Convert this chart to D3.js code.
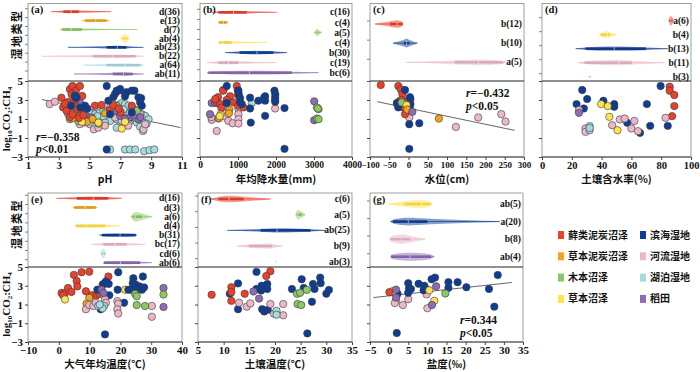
<!DOCTYPE html>
<html>
<head>
<meta charset="utf-8">
<script src="https://cdn.jsdelivr.net/npm/d3@7"></script>
<style>
  body { margin: 0; background: #fff; }
  svg text { font-family: "Liberation Serif", "Noto Sans CJK SC", serif; font-weight: bold; fill: #111; }
  .cjk { font-family: "Noto Sans CJK SC", sans-serif; }
</style>
</head>
<body>
<svg id="chart" width="700" height="372"></svg>
<script>
// --- wetland types ---
const typeKeys = ["moss", "hpeat", "wood", "herb", "coast", "river", "lake", "paddy"];
const typeNames = ["藓类泥炭沼泽", "草本泥炭沼泽", "木本沼泽", "草本沼泽", "滨海湿地", "河流湿地", "湖泊湿地", "稻田"];
const typeColors = ["#e8412c", "#f4a41c", "#8dc866", "#ffe44d", "#0d3d94", "#eab8c8", "#a6dcdd", "#8b6cb6"];

// --- (a) pH ---
const phTicks = [1, 3, 5, 7, 9, 11];
const phRowTypes = ["moss", "hpeat", "wood", "herb", "coast", "river", "lake", "paddy"];
const phRowLabels = ["d(36)", "e(13)", "d(7)", "ab(4)", "ab(23)", "b(22)", "a(64)", "ab(11)"];
// min, q1, median, q3, max, relative density peak
const phStats = [
  [2.5, 3.3, 3.8, 4.3, 6.4, 0.35], [4.5, 4.7, 5.4, 6.1, 6.3, 0.3], [3.1, 3.2, 3.8, 4.5, 8.1, 0.3],
  [7.0, 7.15, 7.3, 7.45, 7.6, 1.0], [3.6, 6.1, 6.8, 7.4, 8.5, 0.35], [1.9, 5.2, 6.5, 8.0, 8.5, 0.3],
  [4.6, 6.1, 7.3, 8.3, 8.5, 0.3], [4.0, 6.5, 7.2, 7.8, 8.5, 0.35]
];
const phPoints = [
  ["lake",5.02,1.62],["lake",5.35,1.51],["lake",5.67,1.69],["lake",5.89,1.87],["lake",6.11,1.76],["lake",6.33,2.22],
  ["lake",6.65,2.4],["lake",6.87,2.47],["lake",7.09,2.68],["lake",7.3,2.57],["lake",7.52,2.4],["lake",7.74,2.04],
  ["lake",7.96,1.97],["lake",8.17,1.69],["lake",8.39,1.51],["lake",8.61,1.33],["lake",8.83,0.98],["lake",7.41,1.16],
  ["lake",7.63,0.8],["lake",7.85,1.05],["lake",8.07,0.62],["lake",8.28,0.91],["lake",8.5,0.62],["lake",6.98,0.62],
  ["lake",7.2,0.27],["lake",6.76,0.98],["lake",6.54,1.16],["lake",6.33,0.8],["lake",5.67,1.05],["lake",5.46,0.62],
  ["lake",5.24,0.8],["lake",5.02,0.45],["lake",5.35,0.2],["lake",5.67,0.34],["lake",6.76,0.09],["lake",8.28,0.2],
  ["lake",8.46,-0.26],["lake",5.9,1.3],["lake",6.0,0.6],["lake",7.0,1.4],["lake",7.6,1.6],["lake",8.0,1.3],
  ["lake",6.4,1.9],["lake",7.2,2.0],["lake",5.5,1.3],["lake",8.7,0.5],
  ["lake",6.33,-2.21],["lake",7.3,-2.21],["lake",7.63,-2.21],["lake",7.96,-2.21],["lake",8.54,-2.39],["lake",8.89,-2.28],["lake",9.2,-2.21],
  ["river",2.41,2.57],["river",2.74,2.82],["river",4.26,0.91],["river",4.37,0.45],["river",4.7,0.62],["river",5.28,-0.09],
  ["river",5.57,0.09],["river",6.65,1.16],["river",7.09,0.8],["river",7.96,1.16],["river",8.5,-0.09],["river",8.61,0.45],
  ["river",4.0,1.3],["river",6.0,0.3],["river",7.5,0.3],["river",8.3,1.5],["river",5.0,1.0],
  ["paddy",4.37,2.75],["paddy",4.8,1.33],["paddy",5.13,1.16],["paddy",6.98,1.33],["paddy",7.63,1.16],["paddy",8.17,0.98],
  ["paddy",7.85,1.4],["paddy",4.5,2.0],["paddy",6.6,1.8],["paddy",7.3,1.0],["paddy",8.3,1.2],
  ["wood",3.61,1.51],["wood",3.72,0.98],["wood",4.26,0.8],["wood",6.76,2.4],["wood",8.07,1.87],["wood",3.9,2.1],["wood",4.4,1.5],
  ["hpeat",4.37,1.26],["hpeat",4.85,0.7],["hpeat",5.2,1.0],["hpeat",3.9,1.1],["hpeat",6.0,1.6],["hpeat",5.6,0.5],
  ["herb",7.09,-0.01],["herb",5.57,0.62],["herb",4.5,0.7],["herb",7.3,0.7],
  ["moss",3.17,3.24],["moss",3.72,4.13],["moss",3.89,4.47],["moss",4.11,3.98],["moss",4.37,4.47],["moss",4.52,3.42],
  ["moss",3.83,3.6],["moss",3.28,2.22],["moss",3.5,1.87],["moss",3.83,2.4],["moss",4.04,2.57],["moss",4.2,2.04],
  ["moss",4.48,1.97],["moss",4.7,2.22],["moss",5.35,2.4],["moss",5.78,2.47],["moss",6.33,1.97],["moss",6.54,2.47],
  ["moss",7.02,1.69],["moss",7.74,2.4],["moss",3.72,1.2],["moss",3.6,2.8],["moss",4.0,3.0],["moss",3.9,1.5],
  ["moss",4.3,1.1],["moss",3.4,2.6],["moss",4.6,1.4],["moss",6.9,2.1],
  ["coast",6.11,4.47],["coast",6.87,3.98],["coast",6.54,3.3],["coast",7.3,3.77],["coast",7.91,3.98],["coast",8.35,3.2],
  ["coast",4.11,3.2],["coast",4.04,3.46],["coast",4.15,3.28],["coast",6.22,2.93],["coast",6.65,3.64],["coast",6.76,3.99],
  ["coast",6.98,4.17],["coast",7.3,3.39],["coast",7.41,3.82],["coast",7.74,3.99],["coast",8.17,3.28],["coast",8.28,2.75],
  ["coast",8.39,2.4],["coast",4.7,2.4],["coast",4.85,2.11],["coast",6.33,1.51],["coast",7.74,1.69],["coast",6.11,-2.21],
  ["coast",3.8,2.4],["coast",4.4,2.2]
];
const phFit = [[1.9, 3.05], [10.9, 0.1]];
const phStat = ["=−0.358", "<0.01"];

// --- (b) precipitation ---
const rainTicks = [0, 1000, 2000, 3000, 4000];
const rainRowTypes = ["moss", "hpeat", "wood", "herb", "coast", "river", "paddy"];
const rainRowLabels = ["c(16)", "c(4)", "a(5)", "c(4)", "b(30)", "c(19)", "bc(6)"];
const rainStats = [
  [300, 480, 880, 1230, 2020, 0.35], [480, 500, 615, 700, 750, 0.35], [3000, 3050, 3080, 3120, 3200, 0.8],
  [480, 500, 600, 830, 1760, 0.35], [660, 1040, 1500, 1930, 2290, 0.4], [180, 480, 750, 1010, 2020, 0.4],
  [190, 220, 1300, 2420, 3120, 0.4]
];
const rainPoints = [
  ["river",308,0.91],["river",483,1.05],["river",659,1.26],["river",747,0.8],["river",861,0.55],["river",1011,2.04],
  ["river",1011,1.51],["river",1011,0.98],["river",1011,0.52],["river",440,-0.26],["river",1978,2.11],["river",300,1.2],["river",600,2.2],
  ["paddy",308,2.68],["paddy",396,2.68],["paddy",264,1.51],["paddy",3006,2.86],["paddy",3006,0.87],
  ["wood",3076,2.22],["wood",3120,2.04],["wood",3076,1.05],["wood",3120,0.98],["wood",3100,2.1],
  ["hpeat",773,1.97],["hpeat",760,1.6],["hpeat",500,1.1],
  ["herb",545,1.51],["herb",520,1.3],
  ["lake",1362,2.68],
  ["moss",615,4.06],["moss",607,3.98],["moss",475,3.3],["moss",967,4.47],["moss",994,3.98],["moss",440,2.75],
  ["moss",527,2.57],["moss",791,3.39],["moss",879,2.75],["moss",1143,2.22],["moss",1000,3.5],["moss",700,3.0],
  ["moss",400,3.1],["moss",560,2.2],["moss",1000,2.4],
  ["coast",704,4.47],["coast",1020,3.6],["coast",1055,3.2],["coast",1318,3.25],["coast",1687,3.25],["coast",1960,3.98],
  ["coast",1982,3.6],["coast",1978,3.28],["coast",1978,2.82],["coast",1011,4.0],["coast",1714,3.39],["coast",1714,2.93],
  ["coast",703,2.68],["coast",1055,2.75],["coast",1099,2.57],["coast",1538,2.93],["coast",1318,2.11],["coast",1336,0.62],
  ["coast",1714,1.33],["coast",2224,2.15],["coast",2224,-2.14],["coast",1978,3.0]
];

// --- (c) water level ---
const waterTicks = [-100, -50, 0, 50, 100, 150, 200, 250, 300];
const waterRowTypes = ["moss", "coast", "river"];
const waterRowLabels = ["b(12)", "b(10)", "a(5)"];
const waterStats = [[-87, -48, -29, -15, -14, 0.8], [-40, -12, -5, 2, 23, 0.9], [-7, 120, 182, 246, 254, 0.6]];
const waterPoints = [
  ["river",2,1.16],["river",123,0.16],["river",181,1.16],["river",241,1.51],["river",252,0.73],
  ["moss",-72,4.58],["moss",-26.5,4.47],["moss",-20,4.12],["moss",-16,3.63],["moss",-22,2.93],["moss",-9,2.75],
  ["moss",-24,2.47],["moss",-13.6,2.22],["moss",-9,1.51],["moss",-30,2.6],["moss",-5,2.9],["moss",-18,3.0],
  ["coast",-9,4.05],["coast",5,3.1],["coast",3.7,3.3],["coast",5,2.57],["coast",-26.6,2.22],["coast",2,0.45],
  ["coast",28,0.55],["coast",2,-2.14],["coast",-30,2.7],["coast",3,2.3],
  ["wood",-18,2.75],["herb",-5,2.47],["hpeat",79,1.05],["hpeat",-3,2.0],["paddy",10,1.76]
];
const waterFit = [[-81, 2.82], [276, -0.2]];
const waterStat = ["=−0.432", "<0.05"];

// --- (d) soil moisture ---
const moistTicks = [0, 20, 40, 60, 80, 100];
const moistRowTypes = ["moss", "herb", "coast", "river", "lake"];
const moistRowLabels = ["a(6)", "b(4)", "b(13)", "b(11)", "b(3)"];
const moistStats = [
  [85, 85.5, 86.5, 87.5, 88.4, 1.0], [38.6, 39.5, 43.9, 45.6, 50, 0.7], [22.6, 29.2, 48.5, 69.7, 84.4, 0.45],
  [24.3, 28.5, 51.5, 60.3, 82.2, 0.55], [31, 31.5, 32, 32.5, 33, 0.1]
];
const moistPoints = [
  ["coast",79.6,4.47],["coast",27,4.05],["coast",30.3,3.1],["coast",23.2,2.57],["coast",28.1,2.11],["coast",41.2,2.92],
  ["coast",48.5,2.57],["coast",48.5,2.29],["coast",70.4,2.57],["coast",57.2,0.6],["coast",72.6,0.28],["coast",84.4,0.28],["coast",65.8,-0.46],
  ["moss",85.7,4.4],["moss",85.7,3.98],["moss",88.8,3.52],["moss",88.8,2.36],["moss",87.3,1.3],
  ["herb",39.7,2.57],["herb",44.1,2.36],["herb",45.2,1.23],["herb",50.7,-0.18],
  ["river",24.8,1.94],["river",52.2,0.95],["river",55.5,1.05],["river",62,0.8],["river",47.1,0.35],["river",60,0.0],
  ["river",64.4,-0.28],["river",82.9,1.13],["river",29.2,0.0],["river",29.2,-0.35],
  ["paddy",24.8,1.65],
  ["lake",32,0.25],["lake",32,-0.18],["lake",32,0.05]
];

// --- (e) air temperature ---
const airTicks = [-10, 0, 10, 20, 30, 40];
const airRowTypes = ["moss", "hpeat", "wood", "herb", "coast", "river", "lake", "paddy"];
const airRowLabels = ["d(16)", "d(3)", "a(6)", "d(4)", "b(31)", "bc(17)", "cd(6)", "ab(6)"];
const airStats = [
  [-0.8, 5.8, 11.2, 16.1, 20.4, 0.4], [4.5, 5, 8.5, 12, 12.5, 0.35], [23.4, 24, 24.8, 27, 30.2, 1.0],
  [5.2, 5.5, 9, 15, 19.9, 0.4], [13.2, 14, 19.9, 25, 25.3, 0.35], [10.7, 14.5, 18.3, 22, 28, 0.4],
  [13.6, 13.8, 14.4, 15.1, 15.3, 1.0], [14.5, 14.6, 20, 26.4, 30.2, 0.35]
];
const airPoints = [
  ["moss",4.9,4.16],["moss",7.4,4.44],["moss",9.9,4.5],["moss",5.8,3.5],["moss",16.1,3.98],["moss",6,2.93],
  ["moss",0.9,2.23],["moss",2,2.23],["moss",1.4,1.99],["moss",3,2.76],["moss",4.1,2.34],["moss",8.8,2.41],
  ["moss",10.7,1.99],["moss",12.3,1.99],["moss",13.2,2.13],["moss",15.5,3.28],["moss",14.2,3.1],
  ["herb",2,1.54],["herb",21.5,2.58],["hpeat",9.9,1.71],["hpeat",9.0,1.08],
  ["coast",19.3,4.44],["coast",24.2,3.8],["coast",27.3,3.98],["coast",14.5,3.2],["coast",12.5,2.58],["coast",15.3,3.45],
  ["coast",16.4,1.99],["coast",19.1,2.58],["coast",21.2,1.19],["coast",15,-2.19],["coast",24,3.28],["coast",24.8,2.76],
  ["coast",25.3,2.58],["coast",26.2,2.93],["coast",27,2.58],["coast",27.7,2.83],["coast",23.5,2.58],["coast",22.6,2.58],
  ["coast",13.6,0.49],["coast",16.2,3.2],["coast",25,3.1],
  ["river",8.8,0.49],["river",9.9,0.94],["river",11.2,0.84],["river",14.5,2.06],["river",15,1.54],["river",15.3,1.19],
  ["river",19,1.36],["river",19.3,1.08],["river",19,0.49],["river",19.3,0.04],["river",30.2,0.84],["river",30.2,-0.31],["river",12,1.2],
  ["lake",12.8,0.84],["lake",13.9,0.77],["lake",14.7,0.84],["lake",14.2,0.6],["lake",13.3,1.0],
  ["paddy",13.9,2.58],["paddy",14.5,2.23],["paddy",34,2.76],["paddy",34,0.74],
  ["wood",24.8,2.13],["wood",25.3,1.89],["wood",25.3,0.94],["wood",28,0.84],["wood",34,2.06]
];

// --- (f) soil temperature ---
const soilTicks = [5, 10, 15, 20, 25, 30, 35];
const soilRowTypes = ["moss", "wood", "coast", "river", "lake"];
const soilRowLabels = ["c(6)", "a(5)", "ab(25)", "b(9)", "ab(3)"];
const soilStats = [
  [7.5, 9, 11, 13.9, 19.1, 0.7], [24, 24.2, 24.4, 25.2, 25.9, 1.0], [10.7, 17.2, 20.4, 26.9, 29.8, 0.45],
  [12.6, 14.9, 19.5, 19.6, 21.4, 0.55], [20, 20.05, 20.1, 20.15, 20.2, 0.2]
];
const soilPoints = [
  ["coast",16.4,4.48],["coast",12.8,3.25],["coast",11.2,2.15],["coast",16.4,2.66],["coast",17.3,2.49],["coast",17.4,3.0],
  ["coast",18.5,3.18],["coast",18.5,2.66],["coast",17.5,0.5],["coast",17.9,0.26],["coast",18.6,0.43],["coast",23.3,2.66],
  ["coast",25.2,3.69],["coast",25.6,2.77],["coast",27.4,3.18],["coast",27.7,2.66],["coast",28.8,3.87],["coast",28.9,3.28],
  ["coast",30,2.15],["coast",30.5,2.56],["coast",27.2,1.29],["coast",26.3,-2.08],["coast",12.8,0.5],
  ["moss",7.66,2.04],["moss",11.5,2.84],["moss",11.5,2.32],["moss",11.5,1.39],["moss",14.1,2.15],["moss",19.1,4.55],["moss",18.3,4.04],
  ["paddy",15.8,2.39],["paddy",16.9,1.63],
  ["wood",24.3,2.15],["wood",24.9,2.25],["wood",26.2,2.56],["wood",24.4,1.05],["wood",25.1,0.94],
  ["river",13,1.19],["river",14.5,0.77],["river",15.2,1.12],["river",19.1,1.05],["river",21.6,1.05],["river",19.8,0.02],["river",21.6,-0.15],
  ["lake",20.3,0.33],["lake",20.3,-0.09]
];

// --- (g) salinity ---
const saltTicks = [-5, 0, 5, 10, 15, 20, 25, 30, 35];
const saltRowTypes = ["herb", "coast", "river", "paddy"];
const saltRowLabels = ["ab(5)", "a(20)", "b(8)", "ab(4)"];
const saltStats = [
  [-0.2, 4, 8.5, 10.8, 11.2, 0.9], [0.4, 1, 5, 10, 28.9, 0.8], [0, 0.5, 3.3, 5.5, 9.4, 1.0], [0.4, 0.5, 5.5, 11, 11.8, 0.85]
];
const saltPoints = [
  ["river",1.8,1.39],["river",1.5,1.15],["river",3.6,0.94],["river",5,1.56],["river",9.8,2.08],["river",10,0.6],
  ["coast",28.4,4.14],["coast",12,3.87],["coast",11.1,3.69],["coast",15.5,3.38],["coast",17.9,3.38],["coast",5,3.28],
  ["coast",7.7,3.21],["coast",9.2,3.0],["coast",5.2,2.7],["coast",5.7,2.66],["coast",9,2.52],["coast",15.5,2.77],
  ["coast",20.2,2.84],["coast",26.1,2.66],["coast",5,2.25],["coast",2.2,2.15],["coast",27.5,0.77],["coast",2,-2.04],["coast",9.7,2.66],
  ["herb",0.9,2.42],["herb",10.5,2.52],["herb",11.8,1.39],
  ["moss",0.07,2.32],["wood",14.7,2.18],
  ["paddy",1.8,2.59],["paddy",12.3,2.94],["paddy",1.8,1.74],["paddy",11.2,0.94]
];
const saltFit = [[-4.1, 1.74], [32.1, 3.35]];
const saltStat = ["=0.344", "<0.05"];

const yTicks = [5, 3, 1, -1, -3];

const svg = d3.select("#chart");
const colorOf = k => typeColors[typeKeys.indexOf(k)];

function drawPanel(p) {
  const g = svg.append("g");
  const x = d3.scaleLinear().domain(p.xDomain).range([p.left, p.right]);
  const y = d3.scaleLinear().domain([-3, 5]).range([p.bottom, p.mid]);
  const row = d3.scalePoint().domain(d3.range(p.rowTypes.length)).range(p.rowRange);
  const half = d3.scaleLinear().domain([0, 1]).range([0, 5.5]);

  // frame + divider
  g.append("rect")
    .attr("x", p.left).attr("y", p.top)
    .attr("width", p.right - p.left).attr("height", p.bottom - p.top)
    .attr("fill", "none").attr("stroke", "#888").attr("stroke-width", 0.8);
  g.append("line")
    .attr("x1", p.left).attr("x2", p.right).attr("y1", p.mid).attr("y2", p.mid)
    .attr("stroke", "#222").attr("stroke-width", 1);
  g.append("line")
    .attr("x1", p.left).attr("x2", p.right).attr("y1", p.bottom).attr("y2", p.bottom)
    .attr("stroke", "#444").attr("stroke-width", 1);

  // --- violins / boxes ---
  const area = d3.area()
    .x(d => x(d[0]))
    .y0(d => d[2] - half(d[1]))
    .y1(d => d[2] + half(d[1]))
    .curve(d3.curveBasis);

  p.rowStats.forEach((s, i) => {
    const c = colorOf(p.rowTypes[i]);
    const yc = row(i);
    const prof = [[s[0], 0.08 * s[5], yc], [s[1], 0.6 * s[5], yc], [s[2], s[5], yc], [s[3], 0.6 * s[5], yc], [s[4], 0.08 * s[5], yc]];
    g.append("line")
      .attr("x1", x(s[0])).attr("x2", x(s[4])).attr("y1", yc).attr("y2", yc)
      .attr("stroke", c).attr("stroke-width", 1).attr("opacity", 0.7);
    g.append("path").attr("d", area(prof)).attr("fill", c).attr("opacity", 0.5);
    g.append("rect")
      .attr("x", x(s[1])).attr("width", Math.max(1, x(s[3]) - x(s[1])))
      .attr("y", yc - 1.3).attr("height", 2.6)
      .attr("fill", d3.color(c).darker(0.2));
    g.append("line")
      .attr("x1", x(s[2])).attr("x2", x(s[2])).attr("y1", yc - 1.5).attr("y2", yc + 1.5)
      .attr("stroke", "#fff").attr("stroke-width", 0.8).attr("opacity", 0.7);
  });

  // row labels + ticks
  g.selectAll(".rowlab").data(p.rowLabels).join("text")
    .attr("x", p.right - 2).attr("y", (d, i) => row(i))
    .attr("dy", "0.33em").attr("text-anchor", "end")
    .attr("font-size", 9.5).text(d => d);
  g.selectAll(".rowtick").data(p.rowLabels).join("line")
    .attr("x1", p.left - 3).attr("x2", p.left).attr("y1", (d, i) => row(i) - 3).attr("y2", (d, i) => row(i) - 3)
    .attr("stroke", "#666").attr("stroke-width", 0.8);

  g.append("text").attr("x", p.left + 3).attr("y", p.top + 9.5)
    .attr("font-size", 10.5).text(p.letter);

  // fit line
  if (p.fit) {
    g.append("line")
      .attr("x1", x(p.fit[0][0])).attr("y1", y(p.fit[0][1]))
      .attr("x2", x(p.fit[1][0])).attr("y2", y(p.fit[1][1]))
      .attr("stroke", "#666").attr("stroke-width", 1);
  }

  // points
  g.selectAll(".pt").data(p.points).join("circle")
    .attr("cx", d => x(d[1])).attr("cy", d => y(d[2])).attr("r", 3.7)
    .attr("fill", d => colorOf(d[0]))
    .attr("stroke", "#3a3a3a").attr("stroke-width", 0.6);

  if (p.stat) {
    const t1 = g.append("text").attr("x", p.statPos[0]).attr("y", p.statPos[1]).attr("font-size", 11.5);
    t1.append("tspan").attr("font-style", "italic").text("r");
    t1.append("tspan").text(p.stat[0]);
    const t2 = g.append("text").attr("x", p.statPos[0]).attr("y", p.statPos[1] + 12.5).attr("font-size", 11.5);
    t2.append("tspan").attr("font-style", "italic").text("p");
    t2.append("tspan").text(p.stat[1]);
  }

  // axes
  const xAxis = g.append("g").attr("transform", `translate(0,${p.bottom})`)
    .call(d3.axisBottom(x).tickValues(p.xTicks).tickSize(3).tickPadding(1.5).tickFormat(d3.format("d")));
  xAxis.select(".domain").remove();
  xAxis.selectAll("text").attr("font-size", p.tickFont || 11).attr("fill", "#111")
    .style("font-family", "Liberation Serif").style("font-weight", "bold");

  const yAxis = g.append("g").attr("transform", `translate(${p.left},0)`)
    .call(d3.axisLeft(y).tickValues(yTicks).tickSize(3).tickPadding(2)
      .tickFormat(p.yLabels ? d3.format("d") : ""));
  yAxis.select(".domain").remove();
  yAxis.selectAll("text").attr("font-size", 11).attr("fill", "#111")
    .style("font-family", "Liberation Serif").style("font-weight", "bold");
  g.selectAll(".tick line").attr("stroke", "#444");

  g.append("text").attr("class", "cjk")
    .attr("x", (p.left + p.right) / 2).attr("y", p.bottom + 26)
    .attr("text-anchor", "middle").attr("font-size", 10.5)
    .text(p.xTitle);

  if (p.yLabels) {
    g.append("text").attr("class", "cjk")
      .attr("transform", `translate(${p.left - 7},${p.top + 31}) rotate(-90)`)
      .attr("text-anchor", "middle").attr("font-size", 11)
      .attr("letter-spacing", 1.5)
      .text("湿地类型");
    const yl = g.append("text")
      .attr("transform", `translate(${p.left - 18},${(p.mid + p.bottom) / 2}) rotate(-90)`)
      .attr("text-anchor", "middle").attr("font-size", 11);
    yl.append("tspan").text("log");
    yl.append("tspan").attr("font-size", 7).attr("dy", 2).text("10");
    yl.append("tspan").attr("dy", -2).text("CO");
    yl.append("tspan").attr("font-size", 7).attr("dy", 2).text("2");
    yl.append("tspan").attr("dy", -2).text(":CH");
    yl.append("tspan").attr("font-size", 7).attr("dy", 2).text("4");
  }
}

drawPanel({ left: 28, right: 182, top: 3.5, mid: 81, bottom: 157, letter: "(a)", xDomain: [1, 11], xTicks: phTicks,
  xTitle: "pH", rowRange: [11.7, 74], rowTypes: phRowTypes, rowLabels: phRowLabels, rowStats: phStats,
  points: phPoints, fit: phFit, stat: phStat, statPos: [36, 140.5], yLabels: true });
drawPanel({ left: 200, right: 352, top: 3.5, mid: 81, bottom: 157, letter: "(b)", xDomain: [0, 4000], xTicks: rainTicks,
  xTitle: "年均降水量(mm)", rowRange: [12.3, 72.7], rowTypes: rainRowTypes, rowLabels: rainRowLabels, rowStats: rainStats,
  points: rainPoints, tickFont: 9.5 });
drawPanel({ left: 370, right: 524, top: 3.5, mid: 81, bottom: 157, letter: "(c)", xDomain: [-100, 300], xTicks: waterTicks,
  xTitle: "水位(cm)", rowRange: [24, 62.3], rowTypes: waterRowTypes, rowLabels: waterRowLabels, rowStats: waterStats,
  points: waterPoints, fit: waterFit, stat: waterStat, statPos: [466, 97], tickFont: 9 });
drawPanel({ left: 542, right: 691, top: 3.5, mid: 81, bottom: 157, letter: "(d)", xDomain: [0, 100], xTicks: moistTicks,
  xTitle: "土壤含水率(%)", rowRange: [20.7, 76.7], rowTypes: moistRowTypes, rowLabels: moistRowLabels, rowStats: moistStats,
  points: moistPoints, tickFont: 10.5 });
drawPanel({ left: 28, right: 182, top: 193, mid: 267, bottom: 342, letter: "(e)", xDomain: [-10, 40], xTicks: airTicks,
  xTitle: "大气年均温度(℃)", rowRange: [198.3, 262.7], rowTypes: airRowTypes, rowLabels: airRowLabels, rowStats: airStats,
  points: airPoints, yLabels: true });
drawPanel({ left: 198, right: 352, top: 193, mid: 267, bottom: 342, letter: "(f)", xDomain: [5, 35], xTicks: soilTicks,
  xTitle: "土壤温度(℃)", rowRange: [199, 261.7], rowTypes: soilRowTypes, rowLabels: soilRowLabels, rowStats: soilStats,
  points: soilPoints });
drawPanel({ left: 370, right: 523, top: 193, mid: 267, bottom: 342, letter: "(g)", xDomain: [-5, 35], xTicks: saltTicks,
  xTitle: "盐度(‰)", rowRange: [204, 256.7], rowTypes: saltRowTypes, rowLabels: saltRowLabels, rowStats: saltStats,
  points: saltPoints, fit: saltFit, stat: saltStat, statPos: [460, 324] });

// --- legend ---
const legend = svg.append("g");
const legItems = legend.selectAll("g").data(typeKeys).join("g")
  .attr("transform", (d, i) => `translate(${i < 4 ? 558 : 640},${235 + (i % 4) * 21.3})`);
legItems.append("rect").attr("x", 0).attr("y", -4).attr("width", 6).attr("height", 8)
  .attr("fill", (d, i) => typeColors[i]);
legItems.append("text").attr("class", "cjk").attr("x", 10).attr("dy", "0.35em")
  .attr("font-size", 10).text((d, i) => typeNames[i]);
</script>
</body>
</html>
